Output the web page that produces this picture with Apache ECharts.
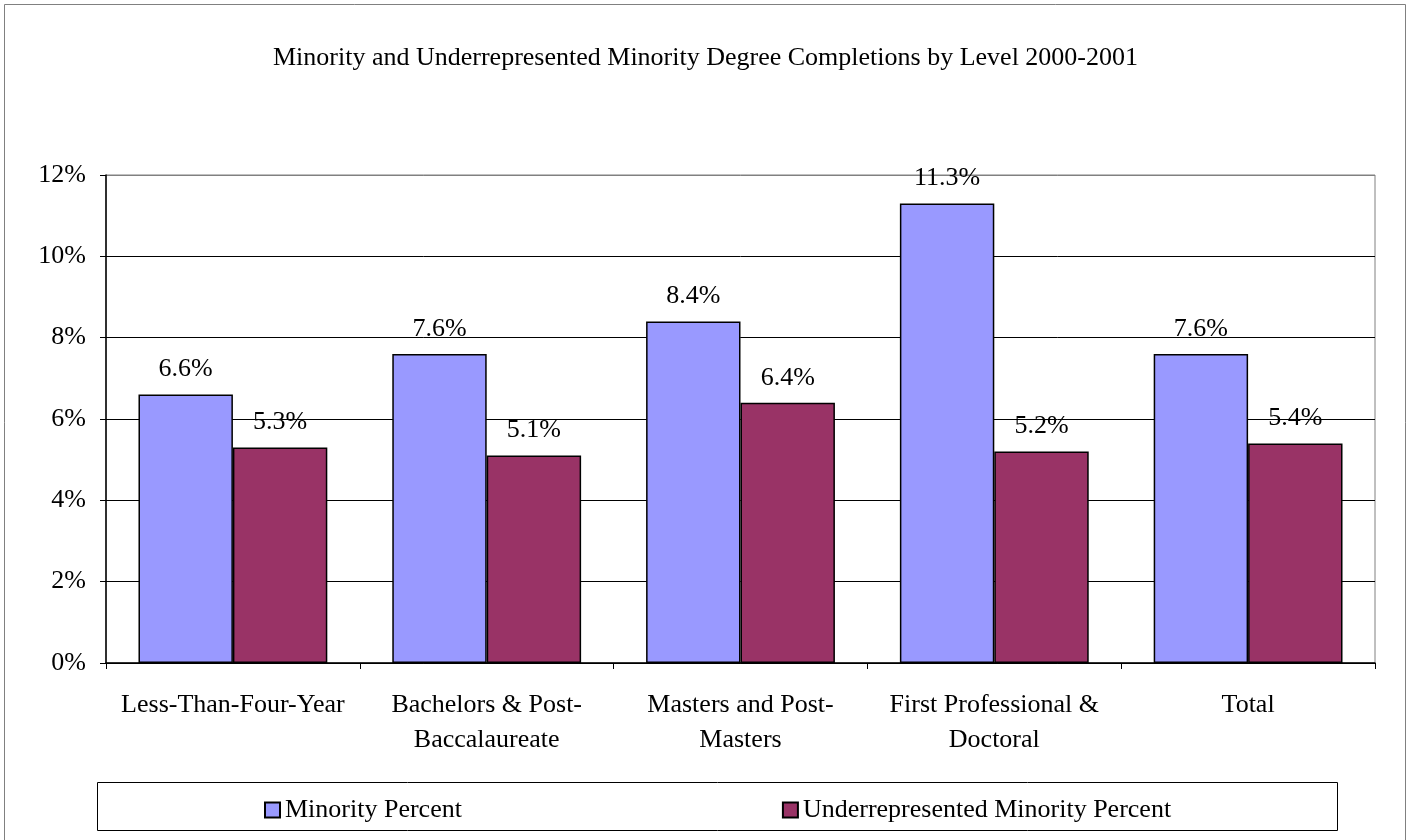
<!DOCTYPE html>
<html><head><meta charset="utf-8">
<script src="https://cdn.jsdelivr.net/npm/echarts@6/dist/echarts.min.js"></script>
<style>html,body{margin:0;padding:0;background:#fff}#c{width:1411px;height:840px}</style>
</head><body><div id="c"></div>
<script>
const titleText = 'Minority and Underrepresented Minority Degree Completions by Level 2000-2001';
const categories = ['Less-Than-Four-Year', 'Bachelors & Post-\nBaccalaureate', 'Masters and Post-\nMasters', 'First Professional &\nDoctoral', 'Total'];
const seriesNames = ['Minority Percent', 'Underrepresented Minority Percent'];
const minorityPct = [6.6, 7.6, 8.4, 11.3, 7.6];
const underrepPct = [5.3, 5.1, 6.4, 5.2, 5.4];
const yTicks = [0, 2, 4, 6, 8, 10, 12];

const FONT = '"Liberation Serif", "Times New Roman", serif';
const FS = 26;
const chart = echarts.init(document.getElementById('c'));
chart.setOption({
  backgroundColor: '#fff',
  animation: false,
  textStyle: { fontFamily: FONT, color: '#000' },
  title: {
    text: titleText, left: 'center', top: 40,
    textStyle: { fontFamily: FONT, fontSize: 26, fontWeight: 'normal', color: '#000' }
  },
  graphic: [
    { type: 'rect', shape: { x: 4.5, y: 4.5, width: 1401, height: 840 }, style: { fill: 'none', stroke: '#808080', lineWidth: 1 }, silent: true, z: -10 },
    { type: 'rect', shape: { x: 97.5, y: 782.5, width: 1240, height: 48 }, style: { fill: '#fff', stroke: '#000', lineWidth: 1 }, silent: true, z: -5 }
  ],
  legend: {
    data: seriesNames, bottom: 12, left: 259, itemGap: 320,
    icon: 'rect', itemWidth: 15, itemHeight: 15,
    textStyle: { fontFamily: FONT, fontSize: FS, color: '#000' }
  },
  grid: { left: 106, right: 36, top: 175, bottom: 177, show: true, borderColor: '#808080', borderWidth: 1 },
  xAxis: {
    type: 'category', data: categories,
    axisLine: { lineStyle: { color: '#000', width: 1.5 } },
    axisTick: { show: true, alignWithLabel: false, length: 6, lineStyle: { color: '#000' } },
    axisLabel: { fontFamily: FONT, fontSize: FS, color: '#000', margin: 25, lineHeight: 35, interval: 0 }
  },
  yAxis: {
    type: 'value', min: 0, max: 12, interval: 2,
    axisLine: { show: true, lineStyle: { color: '#000', width: 1.5 } },
    axisTick: { show: true, length: 6, lineStyle: { color: '#000' } },
    axisLabel: { fontFamily: FONT, fontSize: FS, color: '#000', margin: 20, formatter: v => yTicks.includes(v) ? v + '%' : '' },
    splitLine: { show: true, lineStyle: { color: ['#000', '#000', '#000', '#000', '#000', '#000', '#808080'], width: 1 } }
  },
  series: [
    {
      name: seriesNames[0], type: 'bar', data: minorityPct, barGap: '0%', barCategoryGap: '25.6%',
      itemStyle: { color: '#9999FF', borderColor: '#000', borderWidth: 1.5 },
      label: { show: true, position: 'top', distance: 12, fontFamily: FONT, fontSize: FS, color: '#000', formatter: p => p.value.toFixed(1) + '%' }
    },
    {
      name: seriesNames[1], type: 'bar', data: underrepPct,
      itemStyle: { color: '#993366', borderColor: '#000', borderWidth: 1.5 },
      label: { show: true, position: 'top', distance: 12, fontFamily: FONT, fontSize: FS, color: '#000', formatter: p => p.value.toFixed(1) + '%' }
    }
  ]
});
</script></body></html>
